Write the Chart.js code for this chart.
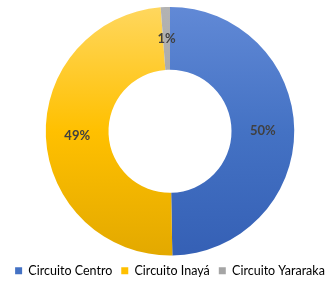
<!DOCTYPE html>
<html>
<head>
<meta charset="utf-8">
<script src="https://cdn.jsdelivr.net/npm/chart.js@4.4.0/dist/chart.umd.min.js"></script>
<style>
  html, body { margin: 0; padding: 0; background: #fff; }
  #wrap { width: 336px; height: 284px; position: relative; }
</style>
</head>
<body>
<div id="wrap"><canvas id="circuitosChart"></canvas></div>
<script>
    // Data
    const categories = ['Circuito Centro', 'Circuito Inayá', 'Circuito Yararaka'];
    const shares = [49.7, 49.1, 1.2];
    const pctLabels = ['50%', '49%', '1%'];

    // top / middle / bottom shades for each slice
    const shades = [
        ['#6189d6', '#4472c4', '#3560b5'],
        ['#ffd75e', '#ffc000', '#e3a900'],
        ['#b3b3b3', '#a5a5a5', '#989898']
    ];
    const legendColors = ['#4472c4', '#ffc000', '#a5a5a5'];

    function sliceFill(ctx) {
        const chart = ctx.chart;
        const area = chart.chartArea;
        if (!area) return legendColors[ctx.dataIndex];
        const s = shades[ctx.dataIndex];
        const g = chart.ctx.createLinearGradient(0, area.top, 0, area.bottom);
        g.addColorStop(0, s[0]);
        g.addColorStop(0.5, s[1]);
        g.addColorStop(1, s[2]);
        return g;
    }

    // Percentage labels in the middle of each ring slice
    const sliceLabels = {
        id: 'sliceLabels',
        afterDatasetsDraw(chart) {
            const c = chart.ctx;
            const meta = chart.getDatasetMeta(0);
            c.save();
            c.font = 'bold 13px Lato';
            c.fillStyle = '#404040';
            c.textAlign = 'center';
            c.textBaseline = 'middle';
            meta.data.forEach(function (arc, i) {
                const p = arc.tooltipPosition();
                c.fillText(pctLabels[i], p.x, p.y);
            });
            c.restore();
        }
    };

    const circuitosConfig = {
        type: 'doughnut',
        data: {
            labels: categories,
            datasets: [{
                data: shares,
                backgroundColor: sliceFill,
                borderWidth: 0
            }]
        },
        options: {
            responsive: true,
            maintainAspectRatio: false,
            animation: false,
            cutout: '49.5%',
            layout: { padding: { top: 7, left: 4, right: 0, bottom: -3 } },
            plugins: {
                tooltip: { enabled: false },
                legend: {
                    position: 'bottom',
                    labels: {
                        boxWidth: 7,
                        boxHeight: 7,
                        padding: 9,
                        color: '#595959',
                        font: { family: 'Lato', size: 12.5 },
                        generateLabels: function (chart) {
                            return categories.map(function (name, i) {
                                return {
                                    text: name,
                                    fillStyle: legendColors[i],
                                    strokeStyle: legendColors[i],
                                    lineWidth: 0,
                                    index: i,
                                    hidden: false
                                };
                            });
                        }
                    }
                }
            }
        },
        plugins: [sliceLabels]
    };

    const circuitosChart = new Chart(
        document.getElementById('circuitosChart'),
        circuitosConfig
    );
</script>
</body>
</html>
